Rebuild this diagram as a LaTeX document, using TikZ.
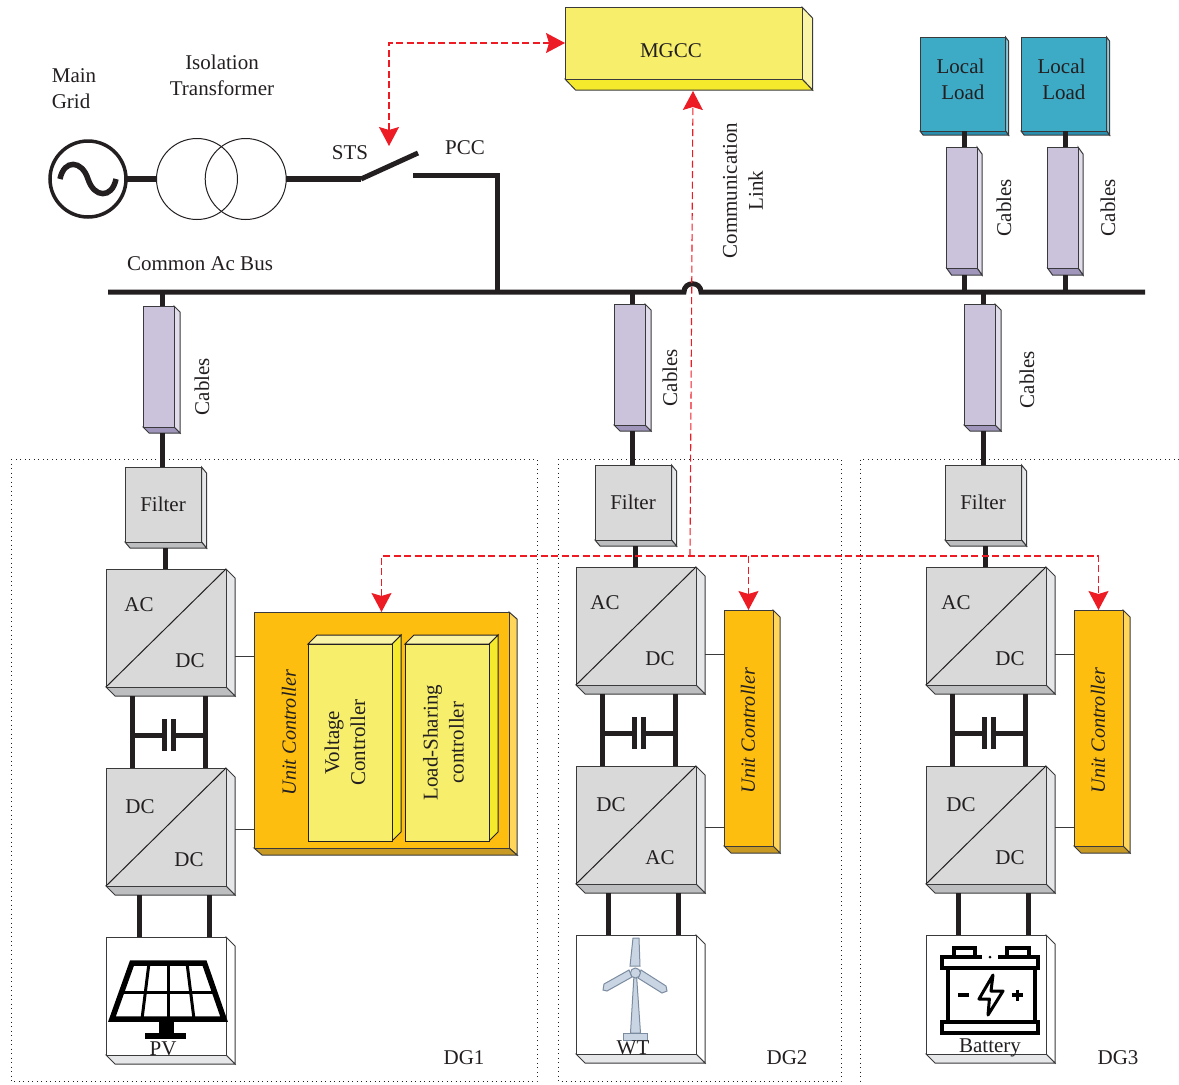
\documentclass[tikz,border=0pt]{standalone}
\usepackage{fontspec}
\setmainfont{Liberation Serif}
\usetikzlibrary{arrows.meta, calc}

\definecolor{ink}{HTML}{231F20}
\definecolor{edge}{HTML}{3A3A3C}
\definecolor{alert}{HTML}{ED1C24}
\definecolor{graya}{HTML}{D9D9D9}
\definecolor{grayb}{HTML}{E6E7E8}
\definecolor{grayc}{HTML}{BCBEC0}
\definecolor{lilaca}{HTML}{CBC3DB}
\definecolor{lilacb}{HTML}{E1DDEA}
\definecolor{lilacc}{HTML}{A096BC}
\definecolor{tealA}{HTML}{3DAAC6}
\definecolor{tealB}{HTML}{8CCBDC}
\definecolor{tealC}{HTML}{2A8FAE}
\definecolor{yela}{HTML}{F7EF6B}
\definecolor{yelb}{HTML}{FAF5A6}
\definecolor{yelc}{HTML}{F5EA2C}
\definecolor{amba}{HTML}{FDBE10}
\definecolor{ambb}{HTML}{FFD55A}
\definecolor{ambc}{HTML}{C99A23}
\definecolor{bladefill}{HTML}{C9D5E3}
\definecolor{bladeedge}{HTML}{7C8CA0}

\tikzset{
  txt/.style={inner sep=0pt, text=ink, font=\fontsize{21}{26}\selectfont, align=center, yshift=-0.6pt},
  unitlabel/.style={rotate=90, font=\fontsize{20.2}{26}\selectfont\itshape},
  gray face/.style={fill=graya}, gray side/.style={fill=grayb}, gray base/.style={fill=grayc},
  white face/.style={fill=white}, white side/.style={fill=white}, white base/.style={fill=grayb},
  cable face/.style={fill=lilaca}, cable side/.style={fill=lilacb}, cable base/.style={fill=lilacc},
  teal face/.style={fill=tealA}, teal side/.style={fill=tealB}, teal base/.style={fill=tealC},
  mgcc face/.style={fill=yela}, mgcc side/.style={fill=yelb}, mgcc base/.style={fill=yelc},
  amber face/.style={fill=amba}, amber side/.style={fill=ambb}, amber base/.style={fill=ambc},
  wire/.style={draw=ink, line width=5pt},
  stub/.style={draw=edge, line width=1pt},
  plate/.style={fill=ink, minimum width=5pt, minimum height=32pt, inner sep=0pt, outer sep=0pt},
  link/.style={draw=alert, line width=1.1pt, dash pattern=on 7pt off 3.5pt,
    >={Stealth[length=19pt, width=20pt, inset=3pt]}},
  zone/.style={draw=ink, line width=0.9pt, dash pattern=on 0.9pt off 3.6pt}
}

\newcommand{\slab}[8]{
  \filldraw[draw=edge, line width=1pt, line join=miter, #1 side] (#3+#5,#4) -- (#3+#5+#7,#4+#8) -- (#3+#5+#7,#4+#6+#8) -- (#3+#5,#4+#6) -- cycle;
  \filldraw[draw=edge, line width=1pt, line join=miter, #1 base] (#3,#4+#6) -- (#3+#5,#4+#6) -- (#3+#5+#7,#4+#6+#8) -- (#3+#7,#4+#6+#8) -- cycle;
  \node[draw=edge, line width=1pt, #1 face, inner sep=0pt, outer sep=0pt, minimum width=#5pt, minimum height=#6pt, anchor=north west] (#2) at (#3,#4) {};
}
\newcommand{\block}[7]{
  \filldraw[draw=ink, line width=1pt, fill=yelc] (#3+#5,#4) -- (#3+#5+#7,#4-#7) -- (#3+#5+#7,#4+#6-#7) -- (#3+#5,#4+#6) -- cycle;
  \filldraw[draw=ink, line width=1pt, fill=yelb] (#3,#4) -- (#3+#7,#4-#7) -- (#3+#5+#7,#4-#7) -- (#3+#5,#4) -- cycle;
  \node[draw=ink, line width=1pt, #1 face, inner sep=0pt, outer sep=0pt, minimum width=#5pt, minimum height=#6pt, anchor=north west] (#2) at (#3,#4) {};
}

\begin{document}
\begin{tikzpicture}[x=1pt, y=-1pt]
            \useasboundingbox (0,0) rectangle (1179,1085);
            \draw[zone] (11,459) rectangle (537,1081);
            \draw[zone] (558,459) rectangle (841,1081);
            \draw[zone] (1179,459) -- (860,459) -- (860,1085);

            \coordinate (B_l) at (108,292);
            \coordinate (B_r) at (1145,292);
            \coordinate (B_j) at (497,292);
            \coordinate (S_a) at (361,179);
            \coordinate (S_b) at (418,153);
            \coordinate (S_c) at (413,175);
            \coordinate (S_d) at (389,146);
            \coordinate (J_0) at (690,556);

            \slab{mgcc}{M_0}{565}{7}{237}{72}{10.5}{11}
            \slab{teal}{L_1}{920}{37}{85.5}{94}{3}{4}
            \slab{teal}{L_2}{1021}{37}{85.5}{94}{3}{4}
            \slab{cable}{K_4}{946.5}{147}{30.5}{121}{5}{7}
            \slab{cable}{K_5}{1047.5}{147}{30.5}{121}{5}{7}
            \slab{cable}{K_1}{143}{306}{31}{121}{6}{6}
            \slab{cable}{K_2}{614}{304}{31}{121}{6}{6}
            \slab{cable}{K_3}{964}{304}{31}{121}{6}{6}
            \slab{gray}{F_1}{125}{467}{76.5}{75}{5}{6}
            \slab{gray}{F_2}{595}{465}{76.5}{75}{5}{6}
            \slab{gray}{F_3}{945}{465}{76.5}{75}{5}{6}
            \slab{gray}{A_1}{106}{569}{120}{118}{9}{9}
            \slab{gray}{A_2}{576}{567}{120}{118}{9}{9}
            \slab{gray}{A_3}{926}{567}{120}{118}{9}{9}
            \slab{gray}{D_1}{106}{768}{120}{118}{9}{9}
            \slab{gray}{D_2}{576}{766}{120}{118}{9}{9}
            \slab{gray}{D_3}{926}{766}{120}{118}{9}{9}
            \slab{white}{P_1}{106}{937}{120}{118}{9}{9}
            \slab{white}{P_2}{576}{935}{120}{119}{9}{9}
            \slab{white}{P_3}{926}{935}{120}{119}{9}{9}
            \slab{amber}{U_1}{254}{612}{255}{236}{8}{7}
            \slab{amber}{U_2}{724}{610}{49}{236}{7}{7}
            \slab{amber}{U_3}{1074}{610}{49}{236}{7}{7}
            \block{mgcc}{V_1}{308}{644}{84}{197}{9}
            \block{mgcc}{V_2}{405}{644}{84}{197}{9}

            \draw[line width=1pt, draw=ink] (A_1.south west) -- (A_1.north east);
            \draw[line width=1pt, draw=ink] (A_2.south west) -- (A_2.north east);
            \draw[line width=1pt, draw=ink] (A_3.south west) -- (A_3.north east);
            \draw[line width=1pt, draw=ink] (D_1.south west) -- (D_1.north east);
            \draw[line width=1pt, draw=ink] (D_2.south west) -- (D_2.north east);
            \draw[line width=1pt, draw=ink] (D_3.south west) -- (D_3.north east);

            \node[circle, draw=ink, line width=3.5pt, minimum size=76pt, inner sep=0pt, outer sep=0pt] (G_0) at (88,179) {};
            \node[circle, draw=ink, line width=1pt, minimum size=81pt, inner sep=0pt, outer sep=0pt] (W_1) at (197,179) {};
            \node[circle, draw=ink, line width=1pt, minimum size=81pt, inner sep=0pt, outer sep=0pt] (W_2) at (245.7,179) {};
            \draw[draw=ink, line width=5.5pt] (60,179) .. controls (64,159) and (82,160) .. (88,179) .. controls (94,198) and (112,199) .. (116,179);
            \draw[wire, line width=6pt] (G_0.east) -- (W_1.west);
            \draw[wire, line width=6pt] (W_2.east) -- (S_a);
            \draw[wire] (S_a) -- (S_b);
            \draw[wire, line join=miter] (S_c) -| (B_j);
            \draw[wire] (B_l) -- (684,292) .. controls (684,281) and (701,281) .. (701,292) -- (B_r);

            \draw[wire] ([xshift=3.5pt]K_1.north) -- ([xshift=3.5pt]K_1.north |- B_l);
            \draw[wire] ([shift={(3.5pt,-6pt)}]K_1.south) -- ([xshift=3.5pt,yshift=0pt]K_1.south |- F_1.north);
            \draw[wire] ([xshift=2.5pt]F_1.south |- A_1.north) -- ([shift={(2.5pt,-6pt)}]F_1.south);
            \draw[wire] ([xshift=2.5pt]K_2.north) -- ([xshift=2.5pt]K_2.north |- B_l);
            \draw[wire] ([shift={(2.5pt,-6pt)}]K_2.south) -- ([xshift=2.5pt]K_2.south |- F_2.north);
            \draw[wire] ([xshift=2.5pt]F_2.south |- A_2.north) -- ([shift={(2.5pt,-6pt)}]F_2.south);
            \draw[wire] ([xshift=3.5pt]K_3.north) -- ([xshift=3.5pt]K_3.north |- B_l);
            \draw[wire] ([shift={(3.5pt,-6pt)}]K_3.south) -- ([xshift=3.5pt]K_3.south |- F_3.north);
            \draw[wire] ([xshift=2.5pt]F_3.south |- A_3.north) -- ([shift={(2.5pt,-6pt)}]F_3.south);
            \draw[wire] ([xshift=2.5pt]K_4.north) -- ([xshift=2.5pt]K_4.north |- L_1.south);
            \draw[wire] ([shift={(2.5pt,-7pt)}]K_4.south) -- ([xshift=2.5pt]K_4.south |- B_l);
            \draw[wire] ([xshift=2.5pt]K_5.north) -- ([xshift=2.5pt]K_5.north |- L_2.south);
            \draw[wire] ([shift={(2.5pt,-7pt)}]K_5.south) -- ([xshift=2.5pt]K_5.south |- B_l);

            \coordinate (C_1) at ([shift={(-34pt,-9pt)}]A_1.south);
            \coordinate (C_2) at ([shift={(39pt,-9pt)}]A_1.south);
            \coordinate (C_3) at ([shift={(-34pt,-9pt)}]A_2.south);
            \coordinate (C_4) at ([shift={(39pt,-9pt)}]A_2.south);
            \coordinate (C_5) at ([shift={(-34pt,-9pt)}]A_3.south);
            \coordinate (C_6) at ([shift={(39pt,-9pt)}]A_3.south);
            \node[plate] (E_1) at (164.5,735) {};
            \node[plate] (E_2) at (173.5,735) {};
            \node[plate] (E_3) at (634.5,733) {};
            \node[plate] (E_4) at (643.5,733) {};
            \node[plate] (E_5) at (984.5,733) {};
            \node[plate] (E_6) at (993.5,733) {};
            \draw[wire] (C_1) -- (C_1 |- D_1.north);
            \draw[wire] (C_2) -- (C_2 |- D_1.north);
            \draw[wire] (C_3) -- (C_3 |- D_2.north);
            \draw[wire] (C_4) -- (C_4 |- D_2.north);
            \draw[wire] (C_5) -- (C_5 |- D_3.north);
            \draw[wire] (C_6) -- (C_6 |- D_3.north);
            \draw[wire] (C_1 |- E_1) -- (E_1.west);
            \draw[wire] (C_2 |- E_2) -- (E_2.east);
            \draw[wire] (C_3 |- E_3) -- (E_3.west);
            \draw[wire] (C_4 |- E_4) -- (E_4.east);
            \draw[wire] (C_5 |- E_5) -- (E_5.west);
            \draw[wire] (C_6 |- E_6) -- (E_6.east);

            \draw[wire] ([shift={(-27pt,-9pt)}]D_1.south) -- ([xshift=-27pt]P_1.north);
            \draw[wire] ([shift={(43.5pt,-9pt)}]D_1.south) -- ([xshift=43.5pt]P_1.north);
            \draw[wire] ([shift={(-28pt,-9pt)}]D_2.south) -- ([xshift=-28pt]P_2.north);
            \draw[wire] ([shift={(42pt,-9pt)}]D_2.south) -- ([xshift=42pt]P_2.north);
            \draw[wire] ([shift={(-28pt,-9pt)}]D_3.south) -- ([xshift=-28pt]P_3.north);
            \draw[wire] ([shift={(42pt,-9pt)}]D_3.south) -- ([xshift=42pt]P_3.north);

            \draw[stub] ([shift={(9pt,-28pt)}]A_1.east) -- ([yshift=-28pt]A_1.east -| U_1.west);
            \draw[stub] ([shift={(9pt,-2pt)}]D_1.east) -- ([yshift=-2pt]D_1.east -| U_1.west);
            \draw[stub] ([shift={(9pt,-28pt)}]A_2.east) -- ([yshift=-28pt]A_2.east -| U_2.west);
            \draw[stub] ([shift={(9pt,-2pt)}]D_2.east) -- ([yshift=-2pt]D_2.east -| U_2.west);
            \draw[stub] ([shift={(9pt,-28pt)}]A_3.east) -- ([yshift=-28pt]A_3.east -| U_3.west);
            \draw[stub] ([shift={(9pt,-2pt)}]D_3.east) -- ([yshift=-2pt]D_3.east -| U_3.west);

            \draw[link, <->] (S_d) |- (M_0.west);
            \draw[link, ->] (J_0) -- ([shift={(9.5pt,-12pt)}]M_0.south);
            \draw[link, <->] (U_1.north) |- (J_0) -| (U_3.north);
            \draw[link, ->] (J_0 -| U_2.north) -- (U_2.north);

            \draw[draw=black, line width=5.5pt, line join=miter] (132,963) -- (204.5,963) -- (224,1019) -- (112,1019) -- cycle;
            \draw[draw=black, line width=3pt] (121.6,992) -- (214.8,992);
            \draw[draw=black, line width=3pt] (149,963) -- (142,1019);
            \draw[draw=black, line width=3pt] (168,963) -- (168,1019);
            \draw[draw=black, line width=3pt] (187,963) -- (194,1019);
            \fill[black] (159,1019) rectangle (173.5,1034);
            \fill[black] (144.5,1033) rectangle (186,1039);

            \filldraw[fill=bladefill, draw=bladeedge, line width=1pt] (634,975) -- (636.5,975) -- (640.5,1033) -- (630.5,1033) -- cycle;
            \filldraw[fill=bladefill, draw=bladeedge, line width=1pt] (623.5,1033) rectangle (647,1040);
            \filldraw[fill=bladefill, draw=bladeedge, line width=1pt] (633,938) -- (639,938) -- (640,966) -- (630,966) -- cycle;
            \filldraw[fill=bladefill, draw=bladeedge, line width=1pt] (629,970) -- (604,984) -- (603,990) -- (607,991) -- (632,977) -- cycle;
            \filldraw[fill=bladefill, draw=bladeedge, line width=1pt] (641,970) -- (666,986) -- (667,991) -- (662,993) -- (638,978) -- cycle;
            \filldraw[fill=bladefill, draw=bladeedge, line width=1pt] (635.4,973) circle[radius=5pt];

            \draw[draw=black, line width=4pt, line join=miter] (982,957) -- (942,957) -- (942,968) -- (1038,968) -- (1038,957) -- (998,957);
            \fill[black] (990,957) circle[radius=1.5pt];
            \draw[draw=black, line width=4pt] (954,957) -- (954,948) -- (975,948) -- (975,957);
            \draw[draw=black, line width=4pt] (1007,957) -- (1007,948) -- (1029,948) -- (1029,957);
            \draw[draw=black, line width=4pt] (948.4,968) -- (948.4,1022);
            \draw[draw=black, line width=4pt] (1034.5,968) -- (1034.5,1022);
            \draw[draw=black, line width=4pt] (942,1022) rectangle (1038,1033);
            \draw[draw=black, line width=3.5pt] (958,995) -- (969,995);
            \draw[draw=black, line width=3.5pt] (1012,995) -- (1023,995) (1017.5,989.5) -- (1017.5,1000.5);
            \draw[draw=black, line width=3pt, line join=round] (993,975) -- (979,999) -- (989.4,999) -- (988,1015) -- (1003,991) -- (991,991) -- cycle;

            \node[txt, align=left] (T_a) at (74,88) {Main\\Grid};
            \node[txt] (T_b) at (222,75) {Isolation\\Transformer};
            \node[txt] (T_c) at (350,152) {STS};
            \node[txt] (T_d) at (465,147) {PCC};
            \node[txt] (T_e) at (200,263) {Common Ac Bus};
            \node[txt] (T_f) at (671,50) {MGCC};
            \node[txt, align=right] (T_g) at (960.5,79) {Local\\Load};
            \node[txt, align=right] (T_h) at (1061.5,79) {Local\\Load};
            \node[txt, rotate=90] (T_i) at (743,190) {Communication\\Link};
            \node[txt, rotate=90] (T_j) at (202,386) {Cables};
            \node[txt, rotate=90] (T_k) at (670,377) {Cables};
            \node[txt, rotate=90] (T_l) at (1027,379) {Cables};
            \node[txt, rotate=90] (T_m) at (1004,207) {Cables};
            \node[txt, rotate=90] (T_n) at (1108,207) {Cables};
            \node[txt] (T_o) at (163,504) {Filter};
            \node[txt] (T_p) at (633,502) {Filter};
            \node[txt] (T_q) at (983,502) {Filter};
            \node[txt] (T_r) at (139,604) {AC};
            \node[txt] (T_s) at (190,660) {DC};
            \node[txt] (T_t) at (140,806) {DC};
            \node[txt] (T_u) at (189,859) {DC};
            \node[txt] (T_v) at (605,602) {AC};
            \node[txt] (T_w) at (660,658) {DC};
            \node[txt] (T_x) at (611,804) {DC};
            \node[txt] (T_y) at (660,857) {AC};
            \node[txt] (T_z) at (956,602) {AC};
            \node[txt] (R_a) at (1010,658) {DC};
            \node[txt] (R_b) at (961,804) {DC};
            \node[txt] (R_c) at (1010,857) {DC};
            \node[txt, unitlabel] (R_d) at (289,732) {Unit Controller};
            \node[txt, unitlabel] (R_e) at (748,730) {Unit Controller};
            \node[txt, unitlabel] (R_f) at (1098,730) {Unit Controller};
            \node[txt, rotate=90] (R_g) at (345,742) {Voltage\\Controller};
            \node[txt, rotate=90] (R_h) at (443.5,742) {Load-Sharing\\controller};
            \node[txt] (R_i) at (163,1048) {PV};
            \node[txt] (R_j) at (633,1047) {WT};
            \node[txt] (R_k) at (990,1047) {Battery};
            \node[txt] (R_l) at (464,1057) {DG1};
            \node[txt] (R_m) at (787,1057) {DG2};
            \node[txt] (R_n) at (1118,1057) {DG3};
        \end{tikzpicture}
\end{document}
